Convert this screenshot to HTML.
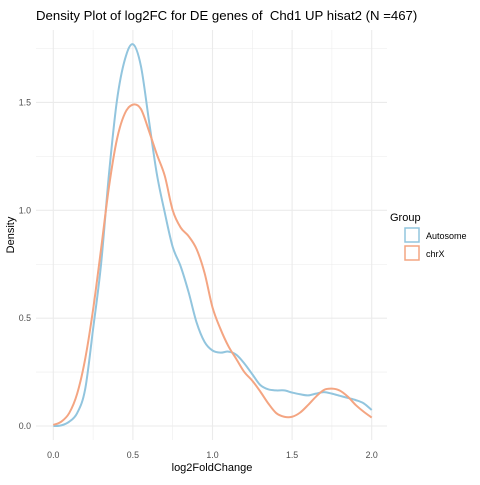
<!DOCTYPE html>
<html><head><meta charset="utf-8"><style>
body{margin:0;background:#fff;font-family:"Liberation Sans",Arial,sans-serif}
svg text{font-family:"Liberation Sans",Arial,sans-serif}
</style></head><body>
<svg id="chart" width="480" height="480" xmlns="http://www.w3.org/2000/svg">
<rect width="480" height="480" fill="#fff"/>
<text x="36" y="20" font-size="13.2" fill="#000">Density Plot of log2FC for DE genes of&#160; Chd1 UP hisat2 (N =467)</text>
<g id="grid"></g>
<g id="xticks"></g>
<g id="yticks"></g>
<g id="lines"></g>
<text x="212" y="471" font-size="11" text-anchor="middle">log2FoldChange</text>
<text transform="translate(14,235) rotate(-90)" font-size="11" text-anchor="middle">Density</text>
<g>
<text x="390" y="221" font-size="11">Group</text>
<g>
<rect x="405" y="228" width="14" height="14" fill="none" stroke="#92C5DE" stroke-width="1.5"/>
<text x="426" y="239" font-size="9">Autosome</text></g>
<g>
<rect x="405" y="246" width="14" height="14" fill="none" stroke="#F4A582" stroke-width="1.5"/>
<text x="426" y="257" font-size="9">chrX</text></g>
</g>
</svg>
<script>
const xs=[0,0.05,0.1,0.15,0.2,0.25,0.3,0.35,0.4,0.45,0.5,0.55,0.6,0.65,0.7,0.75,0.8,0.85,0.9,0.95,1.0,1.05,1.1,1.15,1.2,1.25,1.3,1.35,1.4,1.45,1.5,1.55,1.6,1.65,1.7,1.75,1.8,1.85,1.9,1.95,2.0];
const autosome=[0,0.003,0.02,0.06,0.17,0.45,0.75,1.17,1.51,1.70,1.77,1.67,1.42,1.17,0.99,0.83,0.74,0.62,0.48,0.39,0.35,0.34,0.345,0.33,0.29,0.24,0.19,0.17,0.165,0.165,0.155,0.147,0.142,0.15,0.157,0.15,0.14,0.13,0.12,0.105,0.074];
const chrX=[0.005,0.02,0.06,0.15,0.31,0.54,0.82,1.11,1.33,1.45,1.49,1.47,1.37,1.26,1.16,1.0,0.92,0.88,0.82,0.71,0.55,0.45,0.37,0.31,0.25,0.21,0.16,0.105,0.06,0.043,0.043,0.062,0.097,0.136,0.167,0.173,0.164,0.136,0.097,0.066,0.039];
const xTicks=[0,0.5,1.0,1.5,2.0];
const xTickLabels=["0.0","0.5","1.0","1.5","2.0"];
const yTicks=[0,0.5,1.0,1.5];
const yTickLabels=["0.0","0.5","1.0","1.5"];
const NS="http://www.w3.org/2000/svg";
const X=v=>53.3+v*159.2, Y=v=>426-v*215.7;
const L=36,R=387,T=30,B=440;
const grid=document.getElementById('grid');
function ln(g,x1,y1,x2,y2,w){const l=document.createElementNS(NS,'line');l.setAttribute('x1',x1);l.setAttribute('y1',y1);l.setAttribute('x2',x2);l.setAttribute('y2',y2);l.setAttribute('stroke','#EBEBEB');l.setAttribute('stroke-width',w);g.appendChild(l);}
for(let v=0;v<=2.0001;v+=0.25){ln(grid,X(v),T,X(v),B,Math.abs(v*2-Math.round(v*2))<1e-6?1.1:0.55);}
for(let v=0;v<=1.8;v+=0.25){ln(grid,L,Y(v),R,Y(v),Math.abs(v*2-Math.round(v*2))<1e-6?1.1:0.55);}
const xt=document.getElementById('xticks');
xTicks.forEach((v,i)=>{const t=document.createElementNS(NS,'text');


t.setAttribute('x',X(v));t.setAttribute('y',458);t.setAttribute('font-size','8.8');t.setAttribute('fill','#4D4D4D');t.setAttribute('text-anchor','middle');t.textContent=xTickLabels[i];xt.appendChild(t);});
const yt=document.getElementById('yticks');
yTicks.forEach((v,i)=>{const t=document.createElementNS(NS,'text');


t.setAttribute('x',31);t.setAttribute('y',Y(v)+3);t.setAttribute('font-size','8.8');t.setAttribute('fill','#4D4D4D');t.setAttribute('text-anchor','end');t.textContent=yTickLabels[i];yt.appendChild(t);});
const lg=document.getElementById('lines');
function curve(vals,color,name){
 const pts=xs.map((x,i)=>[X(x),Y(vals[i])]);
 let d='M'+pts[0][0]+','+pts[0][1];
 for(let i=0;i<pts.length-1;i++){const p0=pts[i-1]||pts[i],p1=pts[i],p2=pts[i+1],p3=pts[i+2]||p2;
  d+=` C${p1[0]+(p2[0]-p0[0])/6},${p1[1]+(p2[1]-p0[1])/6} ${p2[0]-(p3[0]-p1[0])/6},${p2[1]-(p3[1]-p1[1])/6} ${p2[0]},${p2[1]}`;}
 const p=document.createElementNS(NS,'path');
 
 
 p.setAttribute('d',d);p.setAttribute('fill','none');p.setAttribute('stroke',color);p.setAttribute('stroke-width','2');lg.appendChild(p);}
curve(autosome,'#92C5DE','autosome-density-line');
curve(chrX,'#F4A582','chrx-density-line');
</script>
</body></html>
